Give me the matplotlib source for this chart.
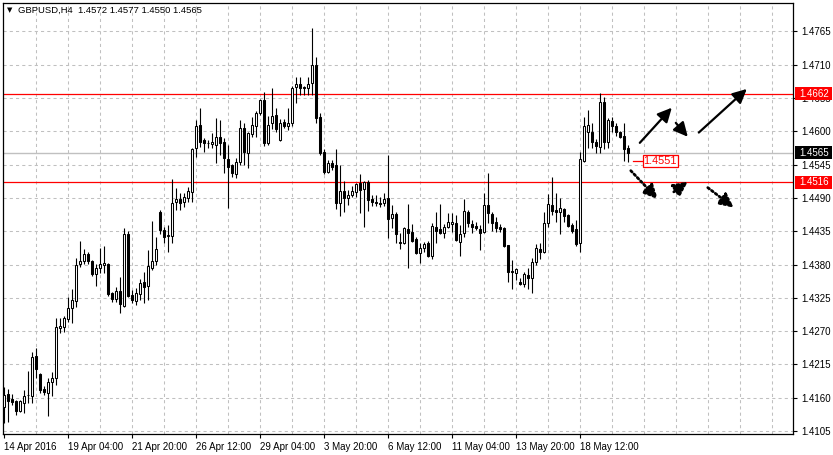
import matplotlib
matplotlib.use('Agg')
import matplotlib.pyplot as plt
from matplotlib.patches import Rectangle, FancyArrowPatch
from matplotlib.transforms import blended_transform_factory

# ---------------- data (GBPUSD H4) ----------------
opens = [1.4145,1.4166,1.4158,1.4155,1.4138,1.4151,1.4164,1.4163,1.4229,1.4199,
         1.4174,1.4168,1.4186,1.4193,1.4275,1.4277,1.4290,1.4308,1.4320,1.4381,
         1.4386,1.4398,1.4386,1.4365,1.4374,1.4379,1.4381,1.4333,1.4323,1.4336,
         1.4312,1.4431,1.4330,1.4320,1.4332,1.4351,1.4345,1.4374,1.4386,1.4467,
         1.4437,1.4427,1.4427,1.4484,1.4489,1.4484,1.4490,1.4500,1.4573,1.4611,
         1.4586,1.4581,1.4579,1.4578,1.4591,1.4583,1.4555,1.4545,1.4530,1.4550,
         1.4606,1.4565,1.4596,1.4608,1.4631,1.4652,1.4581,1.4613,1.4627,1.4586,
         1.4616,1.4608,1.4614,1.4674,1.4679,1.4673,1.4672,1.4680,1.4710,1.4624,
         1.4566,1.4533,1.4548,1.4545,1.4482,1.4502,1.4490,1.4495,1.4500,1.4515,
         1.4505,1.4517,1.4489,1.4484,1.4482,1.4482,1.4490,1.4457,1.4464,1.4417,
         1.4416,1.4439,1.4434,1.4422,1.4399,1.4408,1.4416,1.4394,1.4442,1.4439,
         1.4432,1.4442,1.4447,1.4449,1.4417,1.4432,1.4467,1.4447,1.4444,1.4439,
         1.4434,1.4479,1.4464,1.4451,1.4442,1.4441,1.4412,1.4369,1.4366,1.4351,
         1.4348,1.4363,1.4358,1.4384,1.4406,1.4401,1.4449,1.4479,1.4470,1.4467,
         1.4472,1.4462,1.4445,1.4439,1.4416,1.4551,1.4599,1.4599,1.4583,1.4574,
         1.4649,1.4583,1.4617,1.4609,1.4599,1.4593,1.4572]
highs = [1.4178,1.4174,1.4166,1.4156,1.4156,1.4173,1.4204,1.4236,1.4242,1.4200,
         1.4179,1.4193,1.4202,1.4292,1.4292,1.4295,1.4327,1.4340,1.4391,1.4419,
         1.4406,1.4401,1.4388,1.4381,1.4408,1.4411,1.4382,1.4335,1.4343,1.4360,
         1.4441,1.4436,1.4338,1.4341,1.4356,1.4368,1.4404,1.4452,1.4426,1.4470,
         1.4442,1.4445,1.4522,1.4507,1.4498,1.4498,1.4508,1.4573,1.4619,1.4639,
         1.4589,1.4586,1.4598,1.4622,1.4619,1.4589,1.4578,1.4546,1.4556,1.4619,
         1.4613,1.4599,1.4624,1.4634,1.4654,1.4665,1.4626,1.4672,1.4639,1.4621,
         1.4621,1.4639,1.4675,1.4690,1.4690,1.4675,1.4689,1.4771,1.4722,1.4631,
         1.4570,1.4553,1.4553,1.4570,1.4545,1.4518,1.4503,1.4510,1.4515,1.4530,
         1.4518,1.4520,1.4495,1.4495,1.4492,1.4498,1.4561,1.4479,1.4467,1.4432,
         1.4442,1.4480,1.4447,1.4426,1.4416,1.4417,1.4419,1.4449,1.4467,1.4480,
         1.4447,1.4465,1.4465,1.4462,1.4445,1.4489,1.4470,1.4454,1.4451,1.4445,
         1.4498,1.4531,1.4467,1.4459,1.4447,1.4442,1.4413,1.4388,1.4374,1.4358,
         1.4368,1.4374,1.4391,1.4414,1.4416,1.4467,1.4497,1.4525,1.4498,1.4490,
         1.4474,1.4464,1.4449,1.4454,1.4566,1.4624,1.4636,1.4614,1.4588,1.4664,
         1.4657,1.4622,1.4624,1.4613,1.4601,1.4614,1.4577]
lows = [1.4118,1.4120,1.4148,1.4131,1.4136,1.4135,1.4151,1.4151,1.4193,1.4168,
        1.4165,1.4130,1.4163,1.4181,1.4267,1.4269,1.4285,1.4284,1.4310,1.4376,
        1.4381,1.4381,1.4361,1.4345,1.4366,1.4366,1.4328,1.4318,1.4318,1.4300,
        1.4310,1.4327,1.4317,1.4313,1.4322,1.4317,1.4322,1.4371,1.4379,1.4431,
        1.4416,1.4401,1.4416,1.4470,1.4470,1.4475,1.4484,1.4484,1.4558,1.4574,
        1.4566,1.4573,1.4573,1.4548,1.4561,1.4531,1.4474,1.4525,1.4523,1.4545,
        1.4545,1.4540,1.4591,1.4591,1.4627,1.4576,1.4578,1.4604,1.4599,1.4584,
        1.4606,1.4603,1.4608,1.4646,1.4660,1.4660,1.4660,1.4660,1.4614,1.4561,
        1.4530,1.4531,1.4536,1.4472,1.4460,1.4467,1.4479,1.4492,1.4492,1.4465,
        1.4442,1.4469,1.4477,1.4477,1.4475,1.4477,1.4424,1.4441,1.4416,1.4406,
        1.4414,1.4374,1.4417,1.4398,1.4383,1.4401,1.4393,1.4389,1.4416,1.4431,
        1.4424,1.4441,1.4434,1.4419,1.4394,1.4426,1.4442,1.4432,1.4437,1.4404,
        1.4432,1.4449,1.4436,1.4434,1.4434,1.4409,1.4351,1.4340,1.4355,1.4346,
        1.4343,1.4340,1.4333,1.4379,1.4389,1.4399,1.4442,1.4462,1.4451,1.4431,
        1.4451,1.4442,1.4432,1.4411,1.4401,1.4550,1.4573,1.4573,1.4565,1.4565,
        1.4571,1.4573,1.4599,1.4593,1.4589,1.4551,1.4550]
closes = [1.4165,1.4155,1.4153,1.4138,1.4155,1.4163,1.4165,1.4227,1.4208,1.4173,
          1.4170,1.4186,1.4193,1.4277,1.4279,1.4292,1.4308,1.4322,1.4379,1.4386,
          1.4398,1.4386,1.4365,1.4374,1.4381,1.4383,1.4332,1.4323,1.4336,1.4315,
          1.4431,1.4328,1.4322,1.4333,1.4350,1.4343,1.4378,1.4386,1.4406,1.4437,
          1.4426,1.4429,1.4482,1.4489,1.4482,1.4492,1.4502,1.4571,1.4609,1.4583,
          1.4581,1.4580,1.4583,1.4591,1.4581,1.4556,1.4541,1.4531,1.4550,1.4606,
          1.4566,1.4598,1.4611,1.4631,1.4652,1.4581,1.4611,1.4626,1.4604,1.4614,
          1.4608,1.4614,1.4672,1.4679,1.4672,1.4672,1.4679,1.4710,1.4622,1.4565,
          1.4533,1.4548,1.4541,1.4482,1.4502,1.4490,1.4495,1.4502,1.4513,1.4503,
          1.4517,1.4487,1.4484,1.4482,1.4480,1.4489,1.4455,1.4464,1.4431,1.4416,
          1.4441,1.4432,1.4419,1.4399,1.4408,1.4414,1.4394,1.4444,1.4436,1.4432,
          1.4442,1.4451,1.4451,1.4421,1.4431,1.4469,1.4449,1.4442,1.4441,1.4432,
          1.4479,1.4465,1.4449,1.4441,1.4439,1.4411,1.4368,1.4367,1.4373,1.4348,
          1.4365,1.4358,1.4384,1.4408,1.4401,1.4449,1.4480,1.4469,1.4467,1.4474,
          1.4460,1.4444,1.4436,1.4414,1.4555,1.4609,1.4611,1.4583,1.4576,1.4649,
          1.4583,1.4619,1.4609,1.4599,1.4591,1.4571,1.4565]

xtick_bars = [0, 16, 32, 48, 64, 80, 96, 112, 128, 144]
xtick_labels = ["14 Apr 2016", "19 Apr 04:00", "21 Apr 20:00", "26 Apr 12:00",
                "29 Apr 04:00", "3 May 20:00", "6 May 12:00", "11 May 04:00",
                "13 May 20:00", "18 May 12:00"]
ytick_vals = [1.4105, 1.4160, 1.4215, 1.4270, 1.4325, 1.4380, 1.4435,
              1.4490, 1.4545, 1.4600, 1.4655, 1.4710, 1.4765]
resistance = 1.4662
support = 1.4516
bid_price = 1.4565
marked_price = 1.4551
title = "GBPUSD,H4  1.4572 1.4577 1.4550 1.4565"

# scenario arrows (bar, price) -> (bar, price)
solid_arrows = [(159.0, 1.4581, 167.0, 1.4639),
                (168.0, 1.4614, 171.0, 1.4591),
                (173.75, 1.4598, 185.75, 1.4670)]
dotted_arrows = [(156.75, 1.4535, 163.5, 1.4488),
                 (167.5, 1.4500, 171.0, 1.4517),
                 (176.0, 1.4507, 182.5, 1.4474)]

# ---------------- figure ----------------
W, H = 833, 455
fig = plt.figure(figsize=(W / 100, H / 100), dpi=100)
fig.patch.set_facecolor('white')
ax = fig.add_axes([3 / W, 21 / H, 790 / W, 431 / H])
ax.set_facecolor('white')
ax.set_xlim(-0.2, 197.3)
ax.set_ylim(1.4100, 1.4812)

FONT = 'Liberation Sans'
FS = 7
grid_kw = dict(color='#c0c0c0', lw=0.75, ls=(0, (3, 3)), zorder=0)
for y in ytick_vals:
    ax.axhline(y, **grid_kw)
for xb in range(8, 198, 8):
    ax.axvline(xb, **grid_kw)

# horizontal levels
ax.axhline(bid_price, color='#c0c0c0', lw=1.0, zorder=1)
ax.axhline(resistance, color='#ff0000', lw=0.9, zorder=1)
ax.axhline(support, color='#ff0000', lw=0.9, zorder=1)

# candles
bw = 0.55
for i, (o, h, l, c) in enumerate(zip(opens, highs, lows, closes)):
    ax.plot([i, i], [l, h], color='black', lw=0.8, zorder=3, solid_capstyle='butt')
    bottom = min(o, c)
    height = abs(c - o)
    face = 'white' if c >= o else 'black'
    ax.add_patch(Rectangle((i - bw / 2, bottom), bw, height, facecolor=face,
                           edgecolor='black', lw=0.75, zorder=4))

# arrows
head = '-|>,head_length=0.85,head_width=0.42'
for x0, y0, x1, y1 in solid_arrows:
    ax.add_patch(FancyArrowPatch((x0, y0), (x1, y1), arrowstyle=head,
                 mutation_scale=10, lw=1.6, color='black', zorder=6,
                 shrinkA=0, shrinkB=0))
for x0, y0, x1, y1 in dotted_arrows:
    ax.add_patch(FancyArrowPatch((x0, y0), (x1, y1), arrowstyle=head,
                 mutation_scale=10, lw=2.0, color='black', zorder=6,
                 linestyle=(0, (0.7, 1.0)), shrinkA=0, shrinkB=0))

# marked price label (left price label)
n = len(closes)
ax.plot([n + 0.25, n + 2.75], [marked_price, marked_price], color='#ff0000', lw=0.9, zorder=6)
ax.add_patch(Rectangle((n + 2.75, marked_price - 0.00105), 8.75, 0.0021,
                       facecolor='white', edgecolor='#ff0000', lw=0.9, zorder=6))
ax.text(n + 2.75 + 8.75 / 2, marked_price, f"{marked_price:.4f}", color='#ff0000',
        fontsize=7.8, family=FONT, ha='center', va='center', zorder=7)

# axes styling
for s in ax.spines.values():
    s.set_color('black')
    s.set_linewidth(0.9)
ax.yaxis.tick_right()
ax.set_yticks(ytick_vals)
ax.set_yticklabels([f"{v:.4f}" for v in ytick_vals])
ax.set_xticks(xtick_bars)
ax.set_xticklabels(xtick_labels, ha='left')
ax.tick_params(axis='y', direction='out', length=3, width=0.8, pad=3,
               labelsize=FS, colors='black')
ax.tick_params(axis='x', direction='out', length=3, width=0.8, pad=2.5,
               labelsize=FS, colors='black')
for lab in ax.get_xticklabels() + ax.get_yticklabels():
    lab.set_family(FONT)

# right-axis price boxes
blend = blended_transform_factory(ax.transAxes, ax.transData)
box_h = 0.0022
for price, bg in [(resistance, '#ff0000'), (bid_price, 'black'), (support, '#ff0000')]:
    ax.add_patch(Rectangle((1.0025, price - box_h / 2), 0.0465, box_h, transform=blend,
                           facecolor=bg, edgecolor=bg, lw=0, clip_on=False, zorder=8))
    ax.text(1.0075, price, f"{price:.4f}", transform=blend, color='white',
            fontsize=FS, family=FONT, ha='left', va='center', clip_on=False, zorder=9)

# title
fig.text(9.5 / W, 1 - 10 / H, '\u25BC', fontsize=5, family='DejaVu Sans',
         ha='center', va='center')
fig.text(18 / W, 1 - 10 / H, title, fontsize=6.8, family=FONT, ha='left', va='center',
         color='black')

fig.savefig('out.png', dpi=100, facecolor='white')
